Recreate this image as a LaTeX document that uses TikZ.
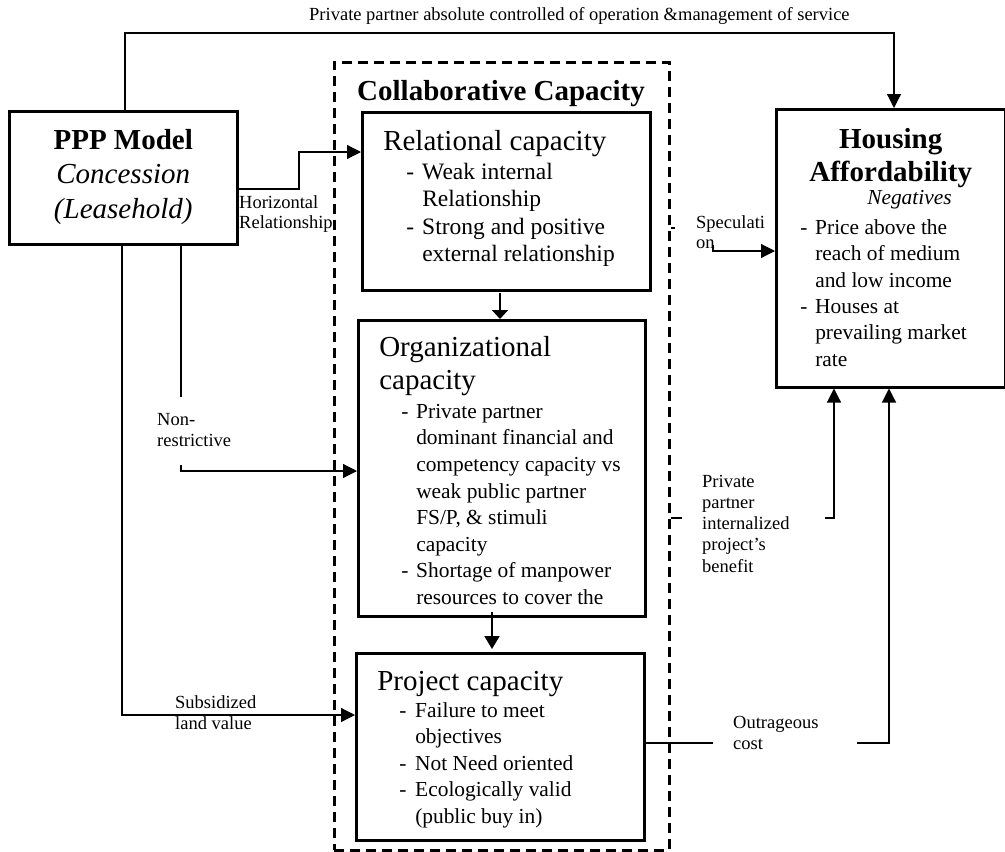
\documentclass[tikz,border=0pt]{standalone}
\usepackage{fontspec}
\setmainfont{Liberation Serif}
\usetikzlibrary{arrows.meta}
\newcommand\myline[2]{\hbox{\vrule height #1pt depth 0pt width 0pt\raisebox{0pt}[0pt][0pt]{#2}}}
\newcommand\fT{\fontsize{29}{33}\selectfont}
\newcommand\fR{\fontsize{23.5}{27}\selectfont}
\newcommand\fB{\fontsize{21.4}{26}\selectfont}
\newcommand\fL{\fontsize{18.5}{21}\selectfont}
\newcommand\dsh[1]{\makebox[#1pt][l]{-}}
\begin{document}
\begin{tikzpicture}[x=1pt,y=-1pt,
  box/.style={draw, line width=2.5pt, inner sep=0pt, anchor=north west},
  dashbox/.style={draw, line width=2.5pt, dash pattern=on 10pt off 6pt, inner sep=0pt, anchor=north west},
  conn/.style={line width=1.2pt},
  vconn/.style={line width=2pt},
  arr/.style={-{Triangle[length=14pt,width=14pt]}},
  varr/.style={-{Triangle[length=13pt,width=15pt]}},
  sarr/.style={-{Triangle[length=9pt,width=16pt]}},
  lbl/.style={inner sep=0pt, font=\fL}]
\fill[white] (0,0) rectangle (1005,852);
\useasboundingbox (0,0) rectangle (1005,852);

% collaborative capacity group
\node[dashbox, minimum width=335pt, minimum height=788pt] (collab) at (333,61) {};
\node[anchor=base, inner sep=0pt, font=\fT\bfseries] (cctitle) at (501,100) {Collaborative Capacity};

% PPP model
\node[box] (ppp) at (8,110) {\hbox to 228pt{\vbox to 133pt{\offinterlineskip
  \myline{38}{\hbox to 228pt{\hss\fT\bfseries PPP Model\hss}}
  \myline{34.5}{\hbox to 228pt{\hss\fT\itshape Concession\hss}}
  \myline{34.5}{\hbox to 228pt{\hss\fT\itshape (Leasehold)\hss}}
  \vfil}\hss}};

% relational capacity
\node[box] (rel) at (361,111) {\hbox to 288pt{\vbox to 178pt{\offinterlineskip
  \myline{38}{\hspace*{21pt}\fT Relational capacity}
  \myline{29}{\fR\hspace*{44pt}\dsh{16}Weak internal}
  \myline{27.5}{\fR\hspace*{60pt}Relationship}
  \myline{27.5}{\fR\hspace*{44pt}\dsh{16}Strong and positive}
  \myline{27.5}{\fR\hspace*{60pt}external relationship}
  \vfil}\hss}};

% organizational capacity
\node[box] (org) at (357,319) {\hbox to 287pt{\vbox to 296pt{\offinterlineskip
  \myline{36}{\hspace*{21pt}\fT Organizational}
  \myline{33}{\hspace*{21pt}\fT capacity}
  \myline{29}{\fB\hspace*{43pt}\dsh{15}Private partner}
  \myline{26.6}{\fB\hspace*{58pt}dominant financial and}
  \myline{26.6}{\fB\hspace*{58pt}competency capacity vs}
  \myline{26.6}{\fB\hspace*{58pt}weak public partner}
  \myline{26.6}{\fB\hspace*{58pt}FS/P, \& stimuli}
  \myline{26.6}{\fB\hspace*{58pt}capacity}
  \myline{26.6}{\fB\hspace*{43pt}\dsh{15}Shortage of manpower}
  \myline{26.6}{\fB\hspace*{58pt}resources to cover the}
  \vfil}\hss}};

% project capacity
\node[box] (proj) at (355,652) {\hbox to 288pt{\vbox to 187pt{\offinterlineskip
  \myline{37}{\hspace*{21pt}\fT Project capacity}
  \myline{27}{\fB\hspace*{43pt}\dsh{16}Failure to meet}
  \myline{26.5}{\fB\hspace*{59pt}objectives}
  \myline{26.5}{\fB\hspace*{43pt}\dsh{16}Not Need oriented}
  \myline{26.5}{\fB\hspace*{43pt}\dsh{16}Ecologically valid}
  \myline{26.5}{\fB\hspace*{59pt}(public buy in)}
  \vfil}\hss}};

% housing affordability
\node[box] (housing) at (775,108) {\hbox to 229pt{\vbox to 278pt{\offinterlineskip
  \myline{39}{\hbox to 229pt{\hss\fT\bfseries Housing\hss}}
  \myline{33}{\hbox to 229pt{\hss\fT\bfseries Affordability\hss}}
  \myline{23}{\fB\itshape\hspace*{91pt}Negatives}
  \myline{30}{\fB\hspace*{24pt}\dsh{15}Price above the}
  \myline{26.4}{\fB\hspace*{39pt}reach of medium}
  \myline{26.4}{\fB\hspace*{39pt}and low income}
  \myline{26.4}{\fB\hspace*{24pt}\dsh{15}Houses at}
  \myline{26.4}{\fB\hspace*{39pt}prevailing market}
  \myline{26.4}{\fB\hspace*{39pt}rate}
  \vfil}\hss}};

% labels
\node[lbl, anchor=base west] (ltop) at (309,20) {Private partner absolute controlled of operation \&management of service};
\node[lbl, anchor=north west] (lhor) at (239,193) {\vbox{\offinterlineskip
  \myline{15}{Horizontal}\myline{20}{Relationship}}};
\node[lbl, anchor=north west] (lnon) at (157,410) {\vbox{\offinterlineskip
  \myline{15}{Non-}\myline{21.5}{restrictive}}};
\node[lbl, anchor=north west] (lsub) at (175,693) {\vbox{\offinterlineskip
  \myline{15}{Subsidized}\myline{21}{land value}}};
\node[lbl, anchor=north west] (lspe) at (696,213) {\vbox{\offinterlineskip
  \myline{15}{Speculati}\myline{20}{on}}};
\node[lbl, anchor=north west] (lint) at (702,472) {\vbox{\offinterlineskip
  \myline{15}{Private}\myline{21.2}{partner}\myline{21.2}{internalized}\myline{21.2}{project’s}\myline{21.2}{benefit}}};
\node[lbl, anchor=north west] (lout) at (733,713) {\vbox{\offinterlineskip
  \myline{15}{Outrageous}\myline{21}{cost}}};

% bend coordinates
\coordinate (t1) at (125,33);  \coordinate (t2) at (894,33);
\coordinate (h1) at (299,189); \coordinate (h2) at (299,152);
\coordinate (n1) at (181,397); \coordinate (n2) at (181,465); \coordinate (n3) at (181,471);
\coordinate (s1) at (122,715);
\coordinate (r1) at (500,293); \coordinate (r2) at (500,319);
\coordinate (o1) at (492,612); \coordinate (o2) at (492,649);
\coordinate (p1) at (675,228); \coordinate (p2) at (713,245); \coordinate (p3) at (713,251);
\coordinate (i1) at (682,518); \coordinate (i2) at (825,518); \coordinate (i3) at (834,518);
\coordinate (u1) at (713,743); \coordinate (u2) at (857,743); \coordinate (u3) at (889,743);

% connectors
\draw[conn,arr] (ppp.north -| t1) -- (t1) -- (t2) -- (housing.north -| t2);
\draw[conn,arr] (ppp.east |- h1) -- (h1) -- (h2) -- (rel.west |- h2);
\draw[conn] (ppp.south -| n1) -- (n1);
\draw[conn,arr] (n2) -- (n3) -- (org.west |- n3);
\draw[conn,arr] (ppp.south -| s1) -- (s1) -- (proj.west |- s1);
\draw[vconn,sarr] (r1) -- (r2);
\draw[vconn,varr] (o1) -- (o2);
\draw[conn] (collab.east |- p1) -- (p1);
\draw[conn,arr] (p2) -- (p3) -- (housing.west |- p3);
\draw[conn] (collab.east |- i1) -- (i1);
\draw[conn,arr] (i2) -- (i3) -- (housing.south -| i3);
\draw[conn] (proj.east |- u1) -- (u1);
\draw[conn,arr] (u2) -- (u3) -- (housing.south -| u3);
\end{tikzpicture}
\end{document}
